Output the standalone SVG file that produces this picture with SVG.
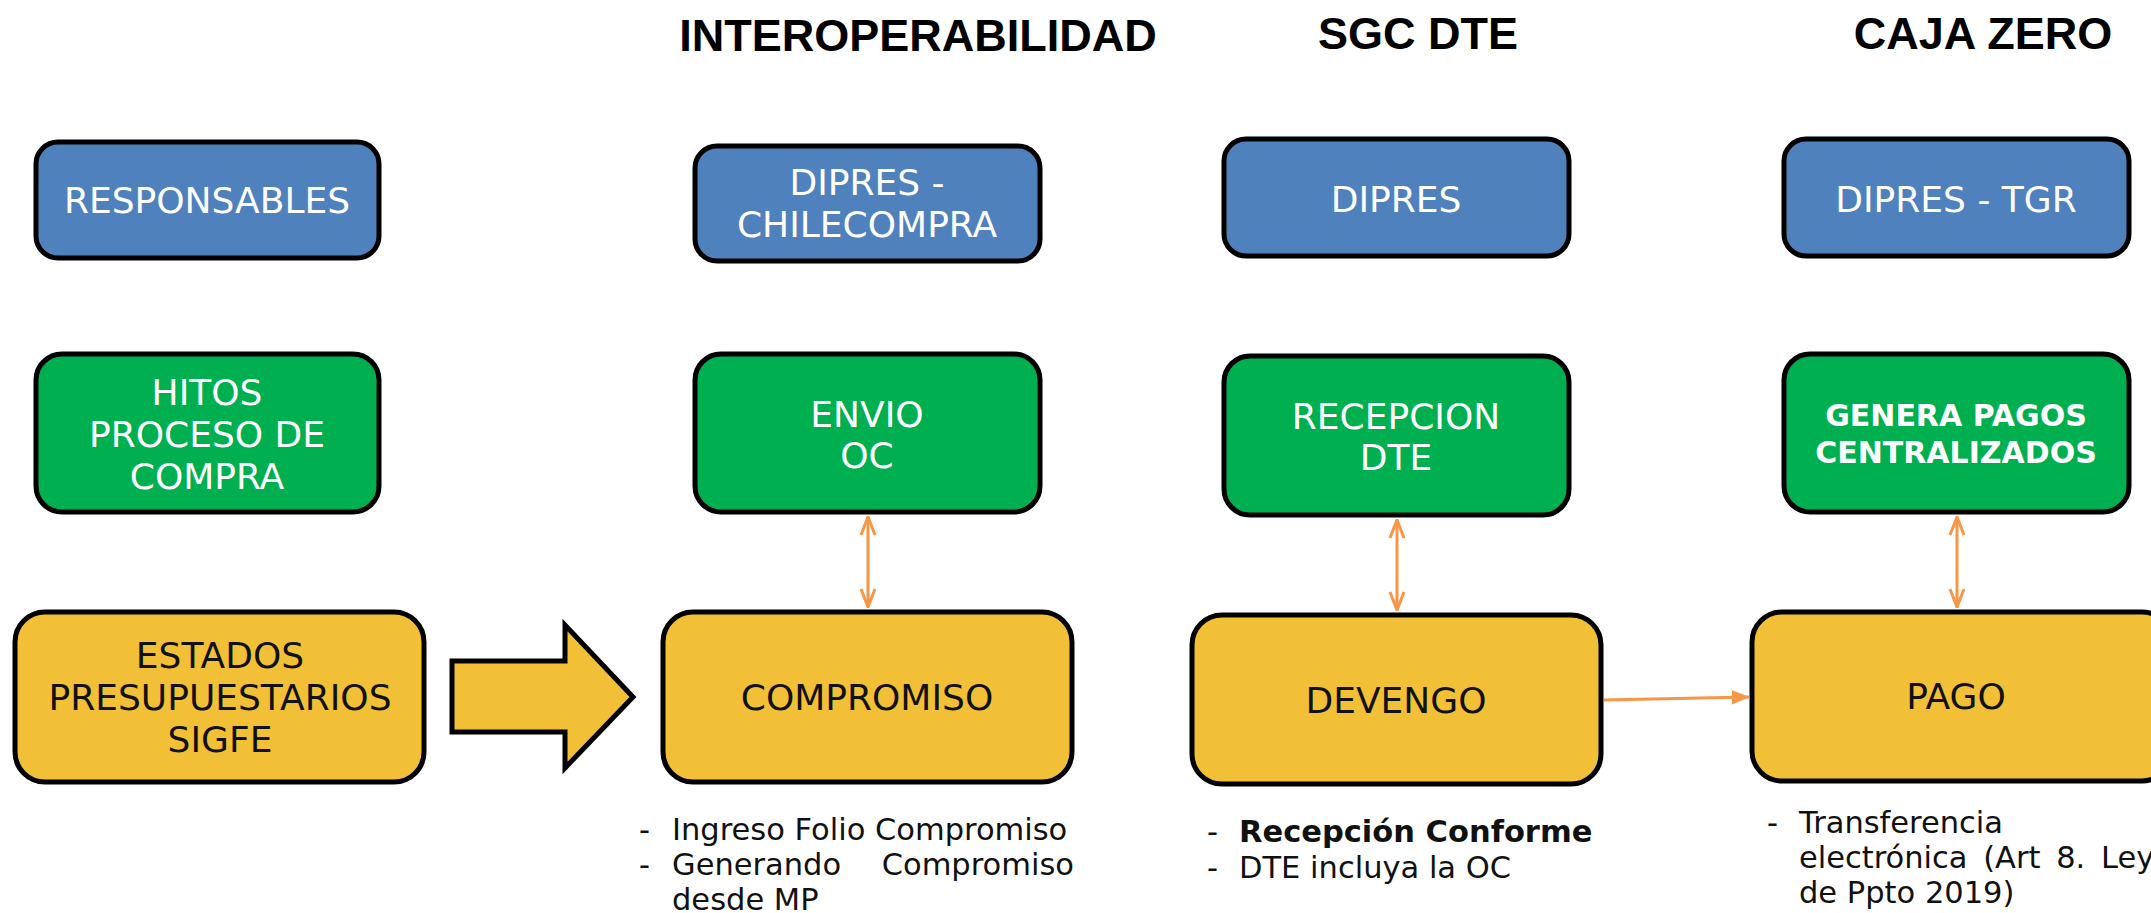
<svg xmlns="http://www.w3.org/2000/svg" width="2151" height="913" viewBox="0 0 2151 913">
<style>
.title{font-family:"Liberation Sans",Arial,sans-serif;font-weight:bold;font-size:45px;fill:#000;text-anchor:middle}
.box{stroke:#000;stroke-width:5}
.blue{fill:#4F81BD}
.green{fill:#00B050}
.yellow{fill:#F2C037}
.lbl{font-family:"DejaVu Sans",Verdana,sans-serif;font-size:36px;text-anchor:middle}
.w{fill:#fff}
.k{fill:#111}
.note{font-family:"DejaVu Sans",Verdana,sans-serif;font-size:30.5px;fill:#111}
.conn{stroke:#F79646;stroke-width:3;fill:none}
</style>
<defs>
<marker id="open" viewBox="0 0 20 20" refX="19" refY="10" markerWidth="20" markerHeight="20" markerUnits="userSpaceOnUse" orient="auto-start-reverse">
<path d="M1,3 L19,10 L1,17" fill="none" stroke="#F79646" stroke-width="3"/>
</marker>
<marker id="tri" viewBox="0 0 20 20" refX="19" refY="10" markerWidth="18" markerHeight="18" markerUnits="userSpaceOnUse" orient="auto">
<path d="M0,2 L20,10 L0,18 Z" fill="#F79646"/>
</marker>
</defs>

<g id="titles">
<text class="title" x="918" y="51">INTEROPERABILIDAD</text>
<text class="title" x="1418" y="49">SGC DTE</text>
<text class="title" x="1983" y="49">CAJA ZERO</text>
</g>

<g id="responsables">
<rect class="box blue" x="36" y="142" width="343" height="116" rx="22"/>
<text class="lbl w" x="207" y="213">RESPONSABLES</text>
</g>
<g id="dipres-chilecompra">
<rect class="box blue" x="695" y="146" width="345" height="115" rx="22"/>
<text class="lbl w" x="867" y="195">DIPRES -</text>
<text class="lbl w" x="867" y="237">CHILECOMPRA</text>
</g>
<g id="dipres">
<rect class="box blue" x="1224" y="139" width="345" height="117" rx="22"/>
<text class="lbl w" x="1396" y="212">DIPRES</text>
</g>
<g id="dipres-tgr">
<rect class="box blue" x="1784" y="139" width="345" height="117" rx="22"/>
<text class="lbl w" x="1956" y="212">DIPRES - TGR</text>
</g>

<g id="hitos">
<rect class="box green" x="36" y="354" width="343" height="158" rx="26"/>
<text class="lbl w" x="207" y="405">HITOS</text>
<text class="lbl w" x="207" y="447">PROCESO DE</text>
<text class="lbl w" x="207" y="489">COMPRA</text>
</g>
<g id="envio-oc">
<rect class="box green" x="695" y="354" width="345" height="158" rx="26"/>
<text class="lbl w" x="867" y="427">ENVIO</text>
<text class="lbl w" x="867" y="468">OC</text>
</g>
<g id="recepcion-dte">
<rect class="box green" x="1224" y="356" width="345" height="159" rx="26"/>
<text class="lbl w" x="1396" y="429">RECEPCION</text>
<text class="lbl w" x="1396" y="470">DTE</text>
</g>
<g id="genera-pagos">
<rect class="box green" x="1784" y="354" width="345" height="158" rx="26"/>
<text class="lbl w" x="1956" y="426" style="font-weight:bold;font-size:30px">GENERA PAGOS</text>
<text class="lbl w" x="1956" y="463" style="font-weight:bold;font-size:30px">CENTRALIZADOS</text>
</g>

<g id="estados">
<rect class="box yellow" x="15" y="612" width="409" height="170" rx="30"/>
<text class="lbl k" x="220" y="668">ESTADOS</text>
<text class="lbl k" x="220" y="710">PRESUPUESTARIOS</text>
<text class="lbl k" x="220" y="752">SIGFE</text>
</g>
<g id="big-arrow">
<polygon class="box yellow" points="452,661 565,661 565,625 633,697 565,768 565,732 452,732"/>
</g>
<g id="compromiso">
<rect class="box yellow" x="663" y="612" width="409" height="170" rx="30"/>
<text class="lbl k" x="867" y="710">COMPROMISO</text>
<text class="note" x="639" y="840">-</text>
<text class="note" x="672" y="840">Ingreso Folio Compromiso</text>
<text class="note" x="639" y="875">-</text>
<text class="note" x="672" y="875">Generando</text>
<text class="note" x="1074" y="875" text-anchor="end">Compromiso</text>
<text class="note" x="672" y="910">desde MP</text>
</g>
<g id="devengo">
<rect class="box yellow" x="1192" y="615" width="409" height="169" rx="30"/>
<text class="lbl k" x="1396" y="713">DEVENGO</text>
<text class="note" x="1207" y="842">-</text>
<text class="note" x="1239" y="842" style="font-weight:bold">Recepción Conforme</text>
<text class="note" x="1207" y="878">-</text>
<text class="note" x="1239" y="878">DTE incluya la OC</text>
</g>
<g id="pago">
<rect class="box yellow" x="1752" y="612" width="420" height="169" rx="30"/>
<text class="lbl k" x="1956" y="709">PAGO</text>
<text class="note" x="1767" y="833">-</text>
<text class="note" x="1799" y="833">Transferencia</text>
<text class="note" x="1799" y="868" word-spacing="6">electrónica (Art 8. Ley</text>
<text class="note" x="1799" y="903">de Ppto 2019)</text>
</g>

<g id="connectors">
<line class="conn" x1="868" y1="517" x2="868" y2="607" marker-start="url(#open)" marker-end="url(#open)"/>
<line class="conn" x1="1397" y1="520" x2="1397" y2="610" marker-start="url(#open)" marker-end="url(#open)"/>
<line class="conn" x1="1957" y1="517" x2="1957" y2="607" marker-start="url(#open)" marker-end="url(#open)"/>
<line class="conn" x1="1604" y1="700" x2="1749" y2="697" marker-end="url(#tri)"/>
</g>
</svg>
